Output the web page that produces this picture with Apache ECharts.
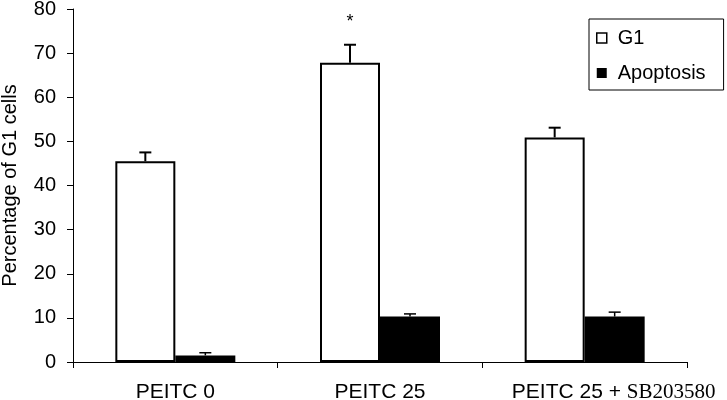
<!DOCTYPE html>
<html>
<head>
<meta charset="utf-8">
<script src="https://cdn.jsdelivr.net/npm/echarts@6/dist/echarts.min.js"></script>
<style>html,body{margin:0;padding:0;background:#fff}#c{width:727px;height:400px}</style>
</head>
<body>
<div id="c"></div>
<script>
var categories = ['PEITC 0', 'PEITC 25', 'PEITC 25 + SB203580'];
var g1Values = [45.5, 67.8, 50.9];
var g1Errors = [2.0, 4.1, 2.2];
var apoValues = [1.5, 10.3, 10.3];
var apoErrors = [0.6, 0.6, 1.0];
var yTicks = [0, 10, 20, 30, 40, 50, 60, 70, 80];
var significance = [['PEITC 25', 77]];

var chart = echarts.init(document.getElementById('c'));
var BAR_W = 60;
var SANS = 'Liberation Sans, Arial, sans-serif';

function errSeries(name, vals, errs, side, lw) {
  return {
    type: 'custom',
    name: name + '_err',
    z: 5,
    silent: true,
    data: vals.map(function (v, i) { return [i, v, v + errs[i]]; }),
    renderItem: function (params, api) {
      var base = api.coord([api.value(0), api.value(1)]);
      var top = api.coord([api.value(0), api.value(2)]);
      var x = base[0] + side * BAR_W / 2;
      return {
        type: 'group',
        children: [
          { type: 'line', shape: { x1: x, y1: base[1], x2: x, y2: top[1] }, style: { stroke: '#000', lineWidth: lw } },
          { type: 'line', shape: { x1: x - 6, y1: top[1], x2: x + 6, y2: top[1] }, style: { stroke: '#000', lineWidth: lw } }
        ]
      };
    }
  };
}

// the last (long) category label sits right of its band centre in the original
var xData = categories.map(function (c, i) {
  return i === categories.length - 1 ? { value: c, textStyle: { padding: [0, 0, 0, 58] } } : c;
});

chart.setOption({
  animation: false,
  backgroundColor: '#fff',
  grid: { left: 73, right: 40, top: 9, bottom: 38, outerBoundsMode: 'none', containLabel: false },
  legend: {
    orient: 'vertical',
    left: 589, top: 19,
    padding: [9, 18, 7, 7],
    itemGap: 15,
    itemWidth: 10, itemHeight: 10,
    borderColor: '#000', borderWidth: 1,
    textStyle: { fontFamily: SANS, fontSize: 20, color: '#000', padding: [0, 0, 0, 6] },
    data: [
      { name: 'G1', icon: 'rect', itemStyle: { color: '#fff', borderColor: '#000', borderWidth: 1.5 } },
      { name: 'Apoptosis', icon: 'rect', itemStyle: { color: '#000' } }
    ]
  },
  xAxis: {
    type: 'category',
    data: xData,
    axisLine: { lineStyle: { color: '#000', width: 1 } },
    axisTick: { show: true, length: 6, lineStyle: { color: '#000' } },
    axisLabel: {
      interval: 0,
      margin: 20,
      color: '#000',
      fontFamily: SANS,
      fontSize: 21,
      formatter: function (v) {
        var m = v.match(/^(.*\+ )(SB\d+)$/);
        if (m) return m[1] + '{s|' + m[2] + '}';
        return v;
      },
      rich: { s: { fontFamily: 'Liberation Serif, Times New Roman, serif', fontSize: 21, color: '#000' } }
    }
  },
  yAxis: {
    type: 'value',
    min: yTicks[0], max: yTicks[yTicks.length - 1], interval: 10,
    name: 'Percentage of G1 cells',
    nameLocation: 'middle',
    nameGap: 53,
    nameTextStyle: { fontFamily: SANS, fontSize: 20, color: '#000' },
    axisLine: { show: true, lineStyle: { color: '#000', width: 1 } },
    axisTick: { show: true, length: 6, lineStyle: { color: '#000' } },
    axisLabel: { margin: 17, color: '#000', fontFamily: SANS, fontSize: 20 },
    splitLine: { show: false }
  },
  series: [
    {
      name: 'G1', type: 'bar', barWidth: BAR_W, barGap: '0%',
      data: g1Values,
      itemStyle: { color: '#fff', borderColor: '#000', borderWidth: 2 }
    },
    {
      name: 'Apoptosis', type: 'bar', barWidth: BAR_W, barGap: '0%',
      data: apoValues,
      itemStyle: { color: '#000' }
    },
    errSeries('G1', g1Values, g1Errors, -1, 2),
    errSeries('Apoptosis', apoValues, apoErrors, 1, 1.5),
    {
      type: 'custom',
      name: 'sig',
      silent: true,
      data: significance.map(function (s) { return [categories.indexOf(s[0]), s[1]]; }),
      renderItem: function (params, api) {
        var p = api.coord([api.value(0), api.value(1)]);
        return {
          type: 'text',
          x: p[0] - BAR_W / 2, y: p[1],
          style: { text: '*', fill: '#000', fontSize: 18, fontFamily: SANS, align: 'center', verticalAlign: 'middle' }
        };
      }
    }
  ]
});
</script>
</body>
</html>
